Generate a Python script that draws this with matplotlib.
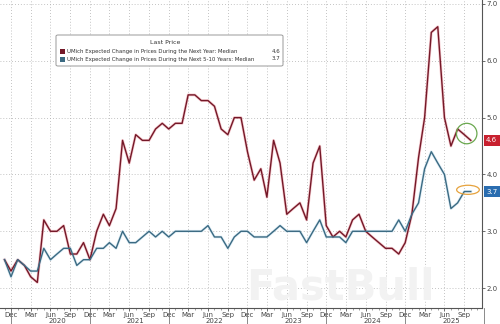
import matplotlib
matplotlib.use("Agg")
import matplotlib.pyplot as plt
import matplotlib.dates as mdates
from matplotlib.patches import Ellipse, FancyBboxPatch
import pandas as pd
import numpy as np

# ---------------- data ----------------
start_month = "2019-11"
one_year = [2.5, 2.3,
            2.5, 2.4, 2.2, 2.1, 3.2, 3.0, 3.0, 3.1, 2.6, 2.6, 2.8, 2.5,
            3.0, 3.3, 3.1, 3.4, 4.6, 4.2, 4.7, 4.6, 4.6, 4.8, 4.9, 4.8,
            4.9, 4.9, 5.4, 5.4, 5.3, 5.3, 5.2, 4.8, 4.7, 5.0, 5.0, 4.4,
            3.9, 4.1, 3.6, 4.6, 4.2, 3.3, 3.4, 3.5, 3.2, 4.2, 4.5, 3.1,
            2.9, 3.0, 2.9, 3.2, 3.3, 3.0, 2.9, 2.8, 2.7, 2.7, 2.6, 2.8,
            3.3, 4.3, 5.0, 6.5, 6.6, 5.0, 4.5, 4.8, 4.7, 4.6]
five_ten = [2.5, 2.2,
            2.5, 2.4, 2.3, 2.3, 2.7, 2.5, 2.6, 2.7, 2.7, 2.4, 2.5, 2.5,
            2.7, 2.7, 2.8, 2.7, 3.0, 2.8, 2.8, 2.9, 3.0, 2.9, 3.0, 2.9,
            3.0, 3.0, 3.0, 3.0, 3.0, 3.1, 2.9, 2.9, 2.7, 2.9, 3.0, 3.0,
            2.9, 2.9, 2.9, 3.0, 3.1, 3.0, 3.0, 3.0, 2.8, 3.0, 3.2, 2.9,
            2.9, 2.9, 2.8, 3.0, 3.0, 3.0, 3.0, 3.0, 3.0, 3.0, 3.2, 3.0,
            3.3, 3.5, 4.1, 4.4, 4.2, 4.0, 3.4, 3.5, 3.7, 3.7]
legend_labels = ["UMich Expected Change in Prices During the Next Year: Median",
                 "UMich Expected Change in Prices During the Next 5-10 Years: Median"]
last_values = ["4.6", "3.7"]
years = [2020, 2021, 2022, 2023, 2024, 2025]
yticks = [2.0, 3.0, 4.0, 5.0, 6.0, 7.0]

dates = pd.date_range(start_month, periods=len(one_year), freq="MS")

RED = "#741828"
RED_GLOW = "#e0505e"
BLUE = "#3b6a82"
BLUE_GLOW = "#8fc3e0"

W, H = 500, 324
fig = plt.figure(figsize=(W / 100, H / 100), dpi=100)
fig.patch.set_facecolor("white")
ax = fig.add_axes([0, 16 / H, 482 / W, 1 - 16 / H])
ax.set_facecolor("white")

# watermark
fig.text(340 / W, 1 - 287 / H, "FastBull", fontsize=30, fontweight="bold",
         color="#f2f2f2", ha="center", va="center", zorder=0)

# lines with glow
ax.plot(dates, one_year, color=RED_GLOW, lw=2.0, alpha=0.3, zorder=3, solid_joinstyle="round")
ax.plot(dates, one_year, color=RED, lw=1.0, zorder=4, solid_joinstyle="round")
ax.plot(dates, five_ten, color=BLUE_GLOW, lw=2.0, alpha=0.3, zorder=3, solid_joinstyle="round")
ax.plot(dates, five_ten, color=BLUE, lw=1.0, zorder=4, solid_joinstyle="round")

# axis limits
ax.set_xlim(pd.Timestamp("2019-10-11"), pd.Timestamp("2025-11-22"))
ax.set_ylim(1.65, 7.07)

# axes styling
for s in ["top", "left"]:
    ax.spines[s].set_visible(False)
ax.spines["right"].set_color("#555555")
ax.spines["bottom"].set_color("#555555")
ax.spines["right"].set_linewidth(0.8)
ax.spines["bottom"].set_linewidth(0.8)

ax.yaxis.tick_right()
ax.set_yticks(yticks)
ax.set_yticklabels([f"{v:.1f}" for v in yticks])
ax.tick_params(axis="y", direction="out", length=2.5, width=0.6, colors="#555555",
               labelsize=5, pad=1, labelcolor="#444444")

ax.xaxis.set_major_locator(mdates.MonthLocator(bymonth=[3, 6, 9, 12]))
ax.xaxis.set_major_formatter(mdates.DateFormatter("%b"))
ax.xaxis.set_minor_locator(mdates.MonthLocator())
ax.tick_params(axis="x", which="major", direction="out", length=2, width=0.6,
               colors="#555555", labelsize=5, pad=1, labelcolor="#444444")
ax.tick_params(axis="x", which="minor", direction="out", length=1.2, width=0.5, colors="#777777")

ax.grid(True, which="major", axis="both", linestyle=(0, (1, 2.5)), color="#b0b0b0", lw=0.6)
ax.set_axisbelow(True)

# year labels and separators
trans = ax.get_xaxis_transform()
for y in years:
    ax.text(pd.Timestamp(f"{y}-07-01"), -13 / (H - 16), str(y), transform=trans,
            fontsize=5, color="#444444", ha="center", va="center", clip_on=False)
for y in years + [2019]:
    ax.plot([pd.Timestamp(f"{y}-12-01")] * 2, [0, -16 / (H - 16)], transform=trans,
            color="#777777", lw=0.6, clip_on=False)

# highlight shapes
ax.add_patch(Ellipse((pd.Timestamp("2025-09-12"), 4.72), width=95, height=0.36,
                     fill=False, edgecolor="#6aa84f", lw=0.9, zorder=6))
ax.add_patch(Ellipse((pd.Timestamp("2025-09-18"), 3.73), width=105, height=0.16,
                     fill=False, edgecolor="#e6a23c", lw=0.9, zorder=6))

# last value boxes on right axis
for val, yv, col in [(last_values[0], one_year[-1], "#c8202f"), (last_values[1], five_ten[-1], "#2a6db0")]:
    ax.annotate(val, xy=(1.0, yv), xycoords=("axes fraction", "data"),
                xytext=(3, 0), textcoords="offset points", fontsize=5, color="white",
                ha="left", va="center", annotation_clip=False,
                bbox=dict(boxstyle="square,pad=0.35", fc=col, ec="none"))

# legend box
lx0, ly0, lx1, ly1 = 56, 35, 283, 66
box = FancyBboxPatch((lx0 / W, 1 - ly1 / H), (lx1 - lx0) / W, (ly1 - ly0) / H,
                     boxstyle="round,pad=0,rounding_size=0.004", transform=fig.transFigure,
                     fc="white", ec="#9a9a9a", lw=0.7, zorder=10)
fig.add_artist(box)
fig.text(165 / W, 1 - 43 / H, "Last Price", fontsize=4.5, color="#333333",
         ha="center", va="center", zorder=11)
for i, (lab, val, col) in enumerate(zip(legend_labels, last_values, [RED, BLUE])):
    yy = 1 - (51.5 + i * 7.5) / H
    fig.add_artist(plt.Rectangle((60 / W, yy - 2.5 / H), 5 / W, 5 / H,
                                 transform=fig.transFigure, fc=col, ec="none", zorder=11))
    fig.text(67 / W, yy, lab, fontsize=3.9, color="#333333", ha="left", va="center", zorder=11)
    fig.text(280 / W, yy, val, fontsize=4.0, color="#333333", ha="right", va="center", zorder=11)

fig.savefig("out.png", dpi=100)
